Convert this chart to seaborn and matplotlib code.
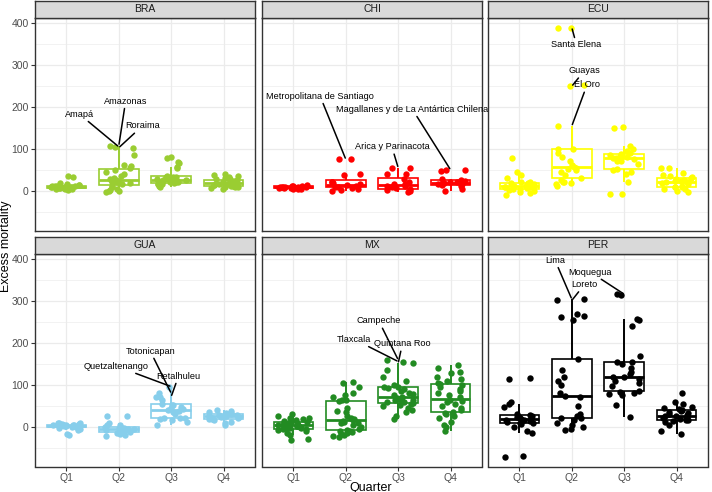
import numpy as np
import pandas as pd
import matplotlib
matplotlib.use("Agg")
import matplotlib.pyplot as plt
import seaborn as sns

quarters = ["Q1", "Q2", "Q3", "Q4"]
countries = ["BRA", "CHI", "ECU", "GUA", "MX", "PER"]
country_colors = ["#9ACD32", "#FF0000", "#FFFF00", "#87CEEB", "#228B22", "#000000"]

# excess mortality per region, by quarter
bra_q1 = [35, 33, 18, 15, 14, 13, 12, 12, 11, 10, 10, 10, 9, 9, 9, 8, 8, 8, 7, 7, 6, 5, 5, 3, 2, 12, 11]
bra_q2 = [108, 105, 103, 85, 62, 58, 55, 50, 45, 40, 35, 30, 27, 25, 24, 23, 22, 20, 18, 15, 12, 10, 5, 2, 0, 0, -3]
bra_q3 = [80, 79, 68, 67, 57, 55, 35, 34, 33, 32, 30, 28, 27, 25, 25, 24, 23, 22, 21, 20, 18, 17, 16, 15, 13, 12, 10]
bra_q4 = [40, 38, 35, 33, 30, 28, 27, 25, 24, 23, 22, 21, 20, 19, 18, 17, 16, 15, 14, 13, 12, 11, 10, 9, 8, 6, 5]

chi_q1 = [14, 12, 12, 11, 10, 10, 9, 9, 8, 8, 7, 7, 6, 5, 5, 4]
chi_q2 = [75, 75, 40, 38, 22, 20, 18, 15, 13, 12, 10, 8, 7, 5, 2, 0]
chi_q3 = [55, 55, 40, 40, 28, 20, 17, 15, 12, 11, 10, 6, 3, 2, 0, -2]
chi_q4 = [50, 49, 47, 28, 26, 24, 22, 20, 19, 18, 16, 15, 13, 12, 5, 0]

ecu_q1 = [78, 46, 38, 30, 22, 20, 19, 18, 15, 13, 12, 12, 11, 10, 9, 8, 6, 5, 4, 2, 0, -3, -5, -10]
ecu_q2 = [390, 388, 252, 250, 155, 100, 99, 90, 80, 70, 62, 57, 55, 53, 50, 45, 38, 31, 26, 22, 20, 18, 15, 12]
ecu_q3 = [152, 150, 108, 100, 95, 90, 88, 86, 84, 82, 80, 79, 78, 75, 72, 70, 65, 52, 50, 45, 40, 20, -7, -8]
ecu_q4 = [55, 54, 42, 38, 35, 33, 30, 28, 26, 24, 23, 22, 21, 20, 18, 15, 12, 10, 9, 8, 5, 3, 0, -2]

gua_q1 = [10, 9, 8, 7, 6, 5, 5, 4, 3, 3, 2, 2, 1, 1, 0, 0, -1, -3, -5, -8, -18, -19]
gua_q2 = [26, 25, 8, 5, 3, 0, -2, -3, -4, -5, -6, -7, -8, -9, -10, -11, -12, -13, -15, -18, -20, -23]
gua_q3 = [96, 80, 72, 70, 65, 54, 53, 52, 48, 45, 42, 40, 38, 35, 30, 21, 20, 20, 18, 15, 12, 5]
gua_q4 = [40, 38, 35, 33, 32, 30, 29, 28, 27, 26, 25, 25, 24, 23, 22, 20, 19, 18, 16, 12, 8, 3]

mx_q1 = [31, 25, 22, 20, 18, 15, 14, 12, 11, 10, 9, 8, 7, 6, 5, 4, 3, 2, 1, 0, -1, -2, -3, -4, -5, -6, -8, -10,
         -15, -20, -30, -32]
mx_q2 = [108, 105, 96, 80, 76, 70, 65, 63, 62, 45, 38, 36, 25, 20, 18, 16, 14, 12, 10, 8, 5, 0, -5, -8, -10, -11,
         -13, -15, -18, -20, -23, -25]
mx_q3 = [160, 156, 152, 136, 120, 110, 100, 96, 94, 92, 90, 85, 80, 78, 75, 72, 68, 66, 65, 64, 62, 60, 58, 56, 55,
         52, 50, 45, 40, 35, 25, 19]
mx_q4 = [148, 140, 132, 128, 120, 115, 110, 105, 102, 100, 95, 90, 85, 80, 75, 70, 65, 62, 58, 55, 50, 45, 40, 35,
         32, 30, 25, 20, 12, 5, 0, -11]

per_q1 = [116, 115, 58, 55, 48, 30, 27, 25, 24, 23, 22, 20, 18, 16, 15, 13, 12, 10, 8, 7, 0, -10, -15, -70, -72]
per_q2 = [305, 302, 270, 266, 262, 255, 162, 136, 118, 110, 100, 80, 74, 70, 50, 30, 25, 22, 20, 15, 10, 5, 0, -5, -8]
per_q3 = [317, 315, 258, 255, 240, 168, 155, 154, 150, 140, 130, 125, 120, 118, 115, 110, 105, 98, 86, 84, 80, 78,
          75, 52, 23]
per_q4 = [80, 60, 55, 48, 45, 42, 40, 38, 35, 32, 30, 28, 26, 25, 24, 22, 20, 18, 16, 15, 14, 12, 5, -10, -17]

series = {
    "BRA": [bra_q1, bra_q2, bra_q3, bra_q4],
    "CHI": [chi_q1, chi_q2, chi_q3, chi_q4],
    "ECU": [ecu_q1, ecu_q2, ecu_q3, ecu_q4],
    "GUA": [gua_q1, gua_q2, gua_q3, gua_q4],
    "MX": [mx_q1, mx_q2, mx_q3, mx_q4],
    "PER": [per_q1, per_q2, per_q3, per_q4],
}

# labelled regions
label_country = ["BRA", "BRA", "BRA", "CHI", "CHI", "CHI", "ECU", "ECU", "ECU",
                 "GUA", "GUA", "GUA", "MX", "MX", "MX", "PER", "PER", "PER"]
label_quarter = ["Q2", "Q2", "Q2", "Q2", "Q3", "Q4", "Q2", "Q2", "Q2",
                 "Q3", "Q3", "Q3", "Q3", "Q3", "Q3", "Q2", "Q2", "Q3"]
label_name = ["Amapá", "Amazonas", "Roraima", "Metropolitana de Santiago", "Arica y Parinacota",
              "Magallanes y de La Antártica Chilena", "Santa Elena", "Guayas", "El Oro",
              "Totonicapan", "Quetzaltenango", "Retalhuleu", "Campeche", "Tlaxcala", "Quintana Roo",
              "Lima", "Loreto", "Moquegua"]
label_value = [105, 108, 103, 75, 55, 50, 390, 250, 155, 80, 96, 72, 160, 156, 152, 305, 302, 317]

# where the label text sits (layout only)
label_text_pos = [(0.25, 183), (1.13, 214), (1.45, 155), (0.51, 226), (1.88, 105), (2.27, 195),
                  (1.09, 349), (1.24, 287), (1.29, 253), (1.6, 181), (0.95, 145), (2.14, 121),
                  (1.63, 253), (1.16, 209), (2.08, 198), (0.68, 398), (1.24, 340), (1.35, 370)]

rows = []
for c in countries:
    for q, vals in zip(quarters, series[c]):
        for v in vals:
            rows.append((c, q, v))
df = pd.DataFrame(rows, columns=["country", "quarter", "excess"])

lo, hi = df["excess"].min(), df["excess"].max()
pad = (hi - lo) * 0.05
ylim = (lo - pad, hi + pad)

plt.rcParams["font.family"] = ["Liberation Sans", "DejaVu Sans"]
np.random.seed(3)

W, H = 712, 492
fig = plt.figure(figsize=(W / 100, H / 100), dpi=100)

col_x = [35, 262, 488]
panel_w = 220
row_strip_top = [1, 237]
strip_h = 17
panel_h = 212.5

for i, c in enumerate(countries):
    r, k = divmod(i, 3)
    x0 = col_x[k]
    st = row_strip_top[r]
    pt = st + strip_h
    ax = fig.add_axes([x0 / W, 1 - (pt + panel_h) / H, panel_w / W, panel_h / H])
    sax = fig.add_axes([x0 / W, 1 - pt / H, panel_w / W, strip_h / H])

    sub = df[df["country"] == c]
    col = country_colors[i]

    # whiskers (1.5 IQR, like ggplot), drawn under the boxes
    for qi, vals in enumerate(series[c]):
        a = np.asarray(vals, dtype=float)
        q1, q3 = np.percentile(a, [25, 75])
        iqr = q3 - q1
        w_hi = a[a <= q3 + 1.5 * iqr].max()
        w_lo = a[a >= q1 - 1.5 * iqr].min()
        ax.vlines(qi, q3, w_hi, color=col, lw=1.2, zorder=1.5)
        ax.vlines(qi, w_lo, q1, color=col, lw=1.2, zorder=1.5)

    sns.boxplot(data=sub, x="quarter", y="excess", order=quarters, ax=ax, fill=True,
                color=col, linecolor=col, width=0.76, showfliers=False, capwidths=0.0,
                linewidth=1.2, boxprops={"facecolor": "white"}, medianprops={"linewidth": 2.0})
    sns.stripplot(data=sub, x="quarter", y="excess", order=quarters, ax=ax, color=col,
                  jitter=0.3, size=4.6, linewidth=0, zorder=3)

    for j in range(len(label_name)):
        if label_country[j] != c:
            continue
        qx = quarters.index(label_quarter[j])
        ax.annotate(label_name[j], xy=(qx, label_value[j]), xytext=label_text_pos[j],
                    ha="center", va="center", fontsize=6.6, color="black", zorder=5,
                    arrowprops=dict(arrowstyle="-", color="black", lw=1.1, shrinkA=0, shrinkB=1))

    ax.set_xlim(-0.6, 3.6)
    ax.set_ylim(*ylim)
    ax.set_yticks([0, 100, 200, 300, 400])
    ax.set_yticks([-50, 50, 150, 250, 350], minor=True)
    ax.grid(which="major", color="#EBEBEB", linewidth=0.9)
    ax.grid(which="minor", axis="y", color="#EBEBEB", linewidth=0.45)
    ax.set_axisbelow(True)
    ax.set_facecolor("white")
    ax.set_xlabel("")
    ax.set_ylabel("")
    for s in ax.spines.values():
        s.set_color("#333333")
        s.set_linewidth(1.0)
    ax.tick_params(which="major", length=3, color="#333333", labelcolor="#4D4D4D", labelsize=7.5, pad=1.5)
    ax.tick_params(which="minor", length=0)
    ax.tick_params(bottom=(r == 1), labelbottom=(r == 1), left=(k == 0), labelleft=(k == 0))

    sax.set_facecolor("#D9D9D9")
    sax.set_xticks([])
    sax.set_yticks([])
    for s in sax.spines.values():
        s.set_color("#333333")
        s.set_linewidth(1.0)
    sax.text(0.5, 0.5, c, ha="center", va="center", fontsize=7.5, color="#1A1A1A", transform=sax.transAxes)

fig.text(371 / W, 1 - 487.5 / H, "Quarter", ha="center", va="center", fontsize=9)
fig.text(6.5 / W, 1 - 246 / H, "Excess mortality", ha="center", va="center", rotation=90, fontsize=9)

fig.savefig("out.png", dpi=100)
